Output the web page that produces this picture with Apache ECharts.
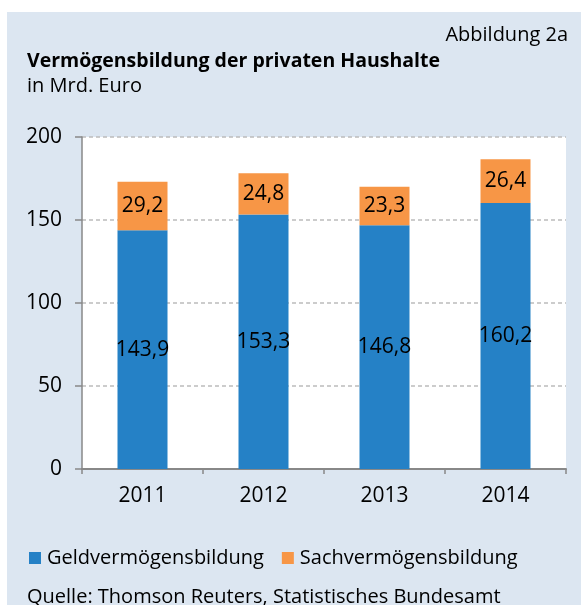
<!DOCTYPE html>
<html>
<head>
<meta charset="utf-8">
<script src="https://cdn.jsdelivr.net/npm/echarts@6/dist/echarts.min.js"></script>
<style>
  html, body { margin: 0; padding: 0; background: #ffffff; }
  .panel { position: absolute; left: 7px; top: 12px; width: 574px; height: 593px; background: #dce6f1; }
  #chart { position: absolute; left: 0; top: 0; width: 581px; height: 605px; }
</style>
</head>
<body>
<div class="panel"></div>
<div id="chart"></div>
<script>
const years = ['2011', '2012', '2013', '2014']
const geldValues = [143.9, 153.3, 146.8, 160.2]
const sachValues = [29.2, 24.8, 23.3, 26.4]
const seriesNames = ['Geldvermögensbildung', 'Sachvermögensbildung']

const FONT = '"Open Sans", sans-serif'
const fmt = p => p.value.toFixed(1).replace('.', ',')

const chart = echarts.init(document.getElementById('chart'))
chart.setOption({
  animation: false,
  textStyle: { fontFamily: FONT },
  title: [
    { text: 'Abbildung 2a', right: 13, top: 24, padding: 0,
      textStyle: { fontSize: 20, fontWeight: 'normal', color: '#000', lineHeight: 22, fontFamily: FONT } },
    { text: 'Vermögensbildung der privaten Haushalte', left: 27, top: 50, padding: 0,
      textStyle: { fontSize: 19.5, fontWeight: 'bold', color: '#000', lineHeight: 22, fontFamily: FONT } },
    { text: 'in Mrd. Euro', left: 27, top: 75, padding: 0,
      textStyle: { fontSize: 20, fontWeight: 'normal', color: '#000', lineHeight: 22, fontFamily: FONT } },
    { text: 'Quelle: Thomson Reuters, Statistisches Bundesamt', left: 27, top: 586, padding: 0,
      textStyle: { fontSize: 20, fontWeight: 'normal', color: '#000', lineHeight: 22, fontFamily: FONT } }
  ],
  legend: {
    left: 29, top: 548, padding: 0,
    itemWidth: 12, itemHeight: 12, itemGap: 18,
    icon: 'rect',
    textStyle: { fontSize: 20, color: '#000', lineHeight: 20, fontFamily: FONT, padding: [0, 0, 0, 1] },
    data: seriesNames
  },
  grid: {
    left: 82, right: 15, top: 137, bottom: 136,
    show: true, backgroundColor: '#ffffff', borderWidth: 0,
    containLabel: false
  },
  xAxis: {
    type: 'category',
    data: years,
    axisLine: { lineStyle: { color: '#888888', width: 2 } },
    axisTick: { show: true, length: 5, lineStyle: { color: '#888888', width: 1.5 } },
    axisLabel: { fontSize: 21, color: '#000', margin: 17, fontFamily: FONT }
  },
  yAxis: {
    type: 'value',
    min: 0, max: 200, interval: 50,
    axisLine: { show: true, lineStyle: { color: '#888888', width: 1.5 } },
    axisTick: { show: true, length: 7, lineStyle: { color: '#888888', width: 1.5 } },
    axisLabel: { fontSize: 21, color: '#000', margin: 20, fontFamily: FONT },
    splitLine: { lineStyle: { color: '#bcbcbc', width: 1.5, type: [4, 3] } }
  },
  series: [
    {
      name: seriesNames[0], type: 'bar', stack: 'total',
      data: geldValues, barWidth: 50,
      itemStyle: { color: '#2581c6' },
      label: { show: true, position: 'inside', formatter: fmt, fontSize: 21, color: '#000', fontFamily: FONT }
    },
    {
      name: seriesNames[1], type: 'bar', stack: 'total',
      data: sachValues, barWidth: 50,
      itemStyle: { color: '#f79646' },
      label: { show: true, position: 'inside', formatter: fmt, fontSize: 21, color: '#000', fontFamily: FONT }
    }
  ]
})
</script>
</body>
</html>
